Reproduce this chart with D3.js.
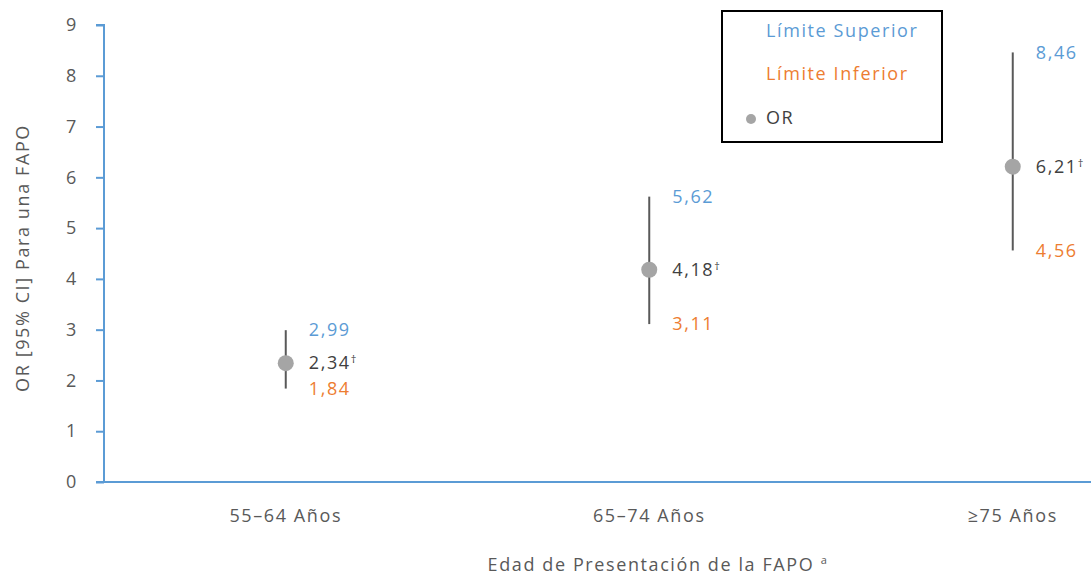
<!DOCTYPE html>
<html>
<head>
<meta charset="utf-8">
<script src="https://cdn.jsdelivr.net/npm/d3@7"></script>
<style>
    body { margin: 0; background: #fff; }
    text { font-family: "Open Sans", sans-serif; letter-spacing: 1.6px; }
</style>
</head>
<body>
<div id="main"></div>
<script>
const W = 1091;
const H = 577;

// data
const categories = ["55–64 Años", "65–74 Años", "≥75 Años"];
const orValues = [2.34, 4.18, 6.21];
const upperValues = [2.99, 5.62, 8.46];
const lowerValues = [1.84, 3.11, 4.56];
const yTicks = [0, 1, 2, 3, 4, 5, 6, 7, 8, 9];

const BLUE = "#5B9BD5";
const ORANGE = "#ED7D31";
const DARK = "#404040";

const fmt = v => v.toFixed(2).replace(".", ",");

var svg = d3.select("#main").append("svg")
    .attr("width", W)
    .attr("height", H);

var x = d3.scaleBand()
    .domain(categories)
    .range([104, 1194.5]);

var y = d3.scaleLinear()
    .domain([0, 9])
    .range([482, 25]);

// y axis
var yAxis = svg.append("g")
    .attr("transform", "translate(104,0)")
    .call(d3.axisLeft(y).tickValues(yTicks).tickSize(8).tickPadding(18));
yAxis.select(".domain").attr("stroke", BLUE).attr("stroke-width", 2).attr("d", "M-8," + y(9) + "H0V" + y(0));
yAxis.selectAll(".tick line").attr("stroke", BLUE).attr("stroke-width", 2);
yAxis.selectAll(".tick text")
    .attr("fill", "#595959")
    .style("font-size", "18px");

// x axis line
svg.append("line")
    .attr("x1", 96).attr("x2", W)
    .attr("y1", y(0)).attr("y2", y(0))
    .attr("stroke", BLUE)
    .attr("stroke-width", 2);

svg.selectAll("text.xlab")
    .data(categories)
    .enter()
    .append("text")
    .attr("class", "xlab")
    .attr("x", d => x(d) + x.bandwidth() / 2)
    .attr("y", 522)
    .attr("text-anchor", "middle")
    .attr("fill", "#595959")
    .style("font-size", "18px")
    .text(d => d);

// axis titles
svg.append("text")
    .attr("transform", "translate(29,258) rotate(-90)")
    .attr("text-anchor", "middle")
    .attr("fill", "#595959")
    .style("font-size", "18px")
    .text("OR [95% CI] Para una FAPO");

var xt = svg.append("text")
    .attr("x", 658)
    .attr("y", 571)
    .attr("text-anchor", "middle")
    .attr("fill", "#595959")
    .style("font-size", "18px")
    .text("Edad de Presentación de la FAPO ");
xt.append("tspan")
    .attr("dy", -7)
    .style("font-size", "11px")
    .text("a");

// error bars + points
var pts = svg.selectAll("g.pt")
    .data(categories.map((c, i) => ({ c: c, or: orValues[i], up: upperValues[i], lo: lowerValues[i] })))
    .enter()
    .append("g")
    .attr("class", "pt")
    .attr("transform", d => "translate(" + (x(d.c) + x.bandwidth() / 2) + ",0)");

pts.append("line")
    .attr("y1", d => y(d.up))
    .attr("y2", d => y(d.lo))
    .attr("stroke", "#595959")
    .attr("stroke-width", 2);

pts.append("circle")
    .attr("cy", d => y(d.or))
    .attr("r", 8)
    .attr("fill", "#A5A5A5");

pts.append("text")
    .attr("x", 23)
    .attr("y", d => y(d.up))
    .attr("dy", "0.35em")
    .attr("fill", BLUE)
    .style("font-size", "18px")
    .text(d => fmt(d.up));

pts.append("text")
    .attr("x", 23)
    .attr("y", d => y(d.lo))
    .attr("dy", "0.35em")
    .attr("fill", ORANGE)
    .style("font-size", "18px")
    .text(d => fmt(d.lo));

var orLab = pts.append("text")
    .attr("x", 23)
    .attr("y", d => y(d.or))
    .attr("dy", "0.35em")
    .attr("fill", DARK)
    .style("font-size", "18px")
    .text(d => fmt(d.or));
orLab.append("tspan")
    .attr("dy", -6)
    .style("font-size", "11px")
    .text("†");

// legend
var lg = svg.append("g").attr("transform", "translate(722,11)");
lg.append("rect")
    .attr("width", 220)
    .attr("height", 131)
    .attr("fill", "#fff")
    .attr("stroke", "#000")
    .attr("stroke-width", 2);
lg.append("text")
    .attr("x", 44).attr("y", 20).attr("dy", "0.35em")
    .attr("fill", BLUE).style("font-size", "18px")
    .text("Límite Superior");
lg.append("text")
    .attr("x", 44).attr("y", 63).attr("dy", "0.35em")
    .attr("fill", ORANGE).style("font-size", "18px")
    .text("Límite Inferior");
lg.append("circle")
    .attr("cx", 29).attr("cy", 108).attr("r", 5)
    .attr("fill", "#A5A5A5");
lg.append("text")
    .attr("x", 44).attr("y", 107).attr("dy", "0.35em")
    .attr("fill", DARK).style("font-size", "18px")
    .text("OR");
</script>
</body>
</html>
